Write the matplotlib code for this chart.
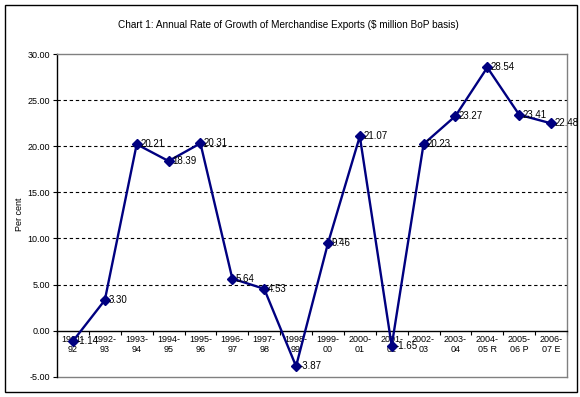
import matplotlib
matplotlib.use("Agg")
import matplotlib.pyplot as plt
from matplotlib.patches import Rectangle
import numpy as np

categories = ["1991-92", "1992-93", "1993-94", "1994-95", "1995-96", "1996-97",
              "1997-98", "1998-99", "1999-00", "2000-01", "2001-02", "2002-03",
              "2003-04", "2004-05 R", "2005-06 P", "2006-07 E"]
values = [-1.14, 3.30, 20.21, 18.39, 20.31, 5.64, 4.53, -3.87, 9.46, 21.07,
          -1.65, 20.23, 23.27, 28.54, 23.41, 22.48]
yticks = [-5, 0, 5, 10, 15, 20, 25, 30]
title = "Chart 1: Annual Rate of Growth of Merchandise Exports ($ million BoP basis)"
ylabel = "Per cent"

plt.rcParams['font.family'] = ['Liberation Sans', 'DejaVu Sans']

W, H = 580, 397
fig = plt.figure(figsize=(W / 100, H / 100), dpi=100)
fig.patch.set_facecolor("white")
fig.patches.append(Rectangle((4.5 / W, 1 - 391.5 / H), 572 / W, 387 / H,
                             transform=fig.transFigure, fill=False,
                             edgecolor="black", linewidth=1.0))

left, right, top, bottom = 57, 567, 54, 376.7
ax = fig.add_axes([left / W, 1 - bottom / H, (right - left) / W, (bottom - top) / H])

n = len(categories)
x = np.arange(n)
ax.set_xlim(-0.5, n - 0.5)
ax.set_ylim(-5, 30)

# dashed gridlines
for yv in yticks:
    if 0 < yv < 30:
        ax.axhline(yv, color="black", linestyle=(0, (3, 2.5)), linewidth=0.8, zorder=1)

ax.plot(x, values, color="#000080", linewidth=1.7, marker="D", markersize=5,
        markerfacecolor="#000080", markeredgecolor="#000080", zorder=3, clip_on=False)

for xi, v in zip(x, values):
    ax.annotate(f"{v:.2f}", (xi, v), xytext=(2.5, 0), textcoords="offset points",
                ha="left", va="center", fontsize=7, color="black", zorder=4)

# spines
for s in ["top", "right"]:
    ax.spines[s].set_color("#808080")
    ax.spines[s].set_linewidth(1.0)
ax.spines["left"].set_color("black")
ax.spines["left"].set_linewidth(1.0)
ax.spines["bottom"].set_position(("data", 0))
ax.spines["bottom"].set_color("black")
ax.spines["bottom"].set_linewidth(1.0)
ax.plot([0, 1], [0, 0], transform=ax.transAxes, color="#808080", linewidth=1.0,
        clip_on=False, zorder=2)

ax.set_yticks(yticks)
ax.set_yticklabels([f"{v:.2f}" for v in yticks], fontsize=6.5)
ax.tick_params(axis="y", direction="out", length=3, width=0.8, pad=2)

ax.set_xticks(np.arange(n + 1) - 0.5)
ax.set_xticklabels([])
ax.tick_params(axis="x", which="major", direction="out", length=3, width=0.8)
ax.set_xticks(x, minor=True)
ax.set_xticklabels([c.replace("-", "-\n", 1) for c in categories], minor=True,
                   fontsize=6.5, linespacing=1.15)
ax.tick_params(axis="x", which="minor", length=0, pad=3)

fig.text(20 / W, 1 - 214 / H, ylabel, rotation=90, ha="center", va="center", fontsize=6.5)
fig.text(0.5 * (99 + 477) / W, 1 - 25 / H, title, ha="center", va="center", fontsize=7.2)

fig.savefig("out.png", dpi=100)
